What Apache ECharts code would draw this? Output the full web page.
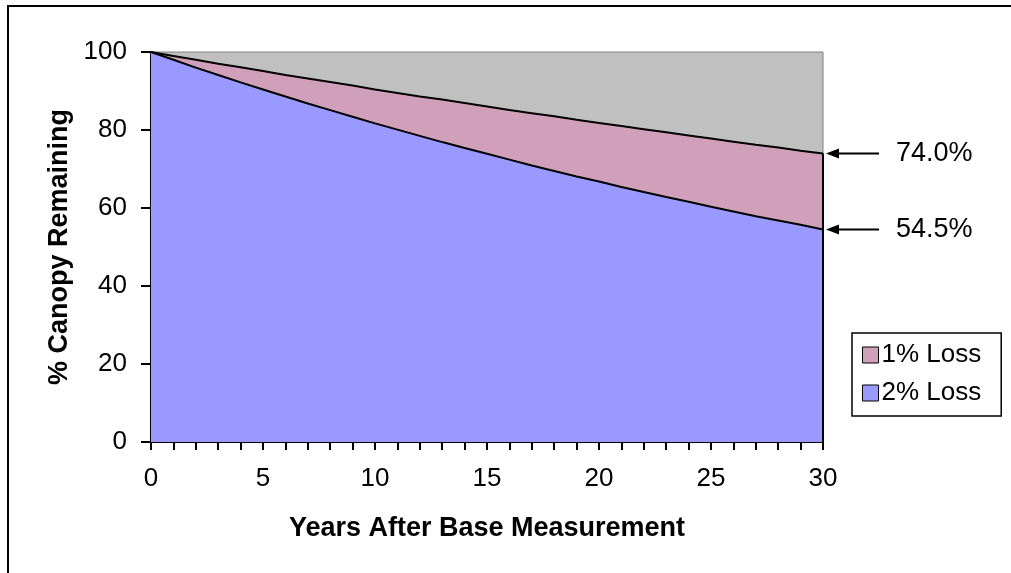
<!DOCTYPE html>
<html>
<head>
<meta charset="utf-8">
<script src="https://cdn.jsdelivr.net/npm/echarts@6/dist/echarts.min.js"></script>
<style>
html,body{margin:0;padding:0;background:#fff;}
#chart{width:1011px;height:573px;}
</style>
</head>
<body>
<div id="chart"></div>
<script>
var years = [0,1,2,3,4,5,6,7,8,9,10,11,12,13,14,15,16,17,18,19,20,21,22,23,24,25,26,27,28,29,30];
var loss1 = [100,99.0,98.0,97.0,96.1,95.1,94.1,93.2,92.3,91.4,90.4,89.5,88.6,87.8,86.9,86.0,85.1,84.3,83.5,82.6,81.8,81.0,80.2,79.4,78.6,77.8,77.0,76.2,75.5,74.7,74.0];
var loss2 = [100,98.0,96.0,94.1,92.2,90.4,88.6,86.8,85.1,83.4,81.7,80.1,78.5,76.9,75.4,73.9,72.4,70.9,69.5,68.1,66.8,65.4,64.1,62.8,61.6,60.3,59.1,57.9,56.8,55.7,54.5];
var seriesNames = ['1% Loss','2% Loss'];
var xTickLabels = ['0','5','10','15','20','25','30'];
var yTickLabels = ['0','20','40','60','80','100'];

var FONT = '"Liberation Sans", Arial, sans-serif';
var chart = echarts.init(document.getElementById('chart'), null, {renderer:'canvas'});

function pairs(vals){ return years.map(function(y,i){ return [y, vals[i]]; }); }

var lastX = years[years.length-1];
var option = {
  animation:false,
  backgroundColor:'#ffffff',
  grid:{left:151, right:188, top:52, bottom:131, show:true, backgroundColor:'#c0c0c0', borderColor:'#808080', borderWidth:1},
  legend:{
    orient:'vertical', left:852, top:333,
    padding:[9,20,10,10], itemGap:12,
    backgroundColor:'#ffffff', borderColor:'#000', borderWidth:1.5,
    itemWidth:16, itemHeight:16, icon:'rect',
    itemStyle:{borderColor:'#000', borderWidth:1},
    textStyle:{fontFamily:FONT, fontSize:26, color:'#000', padding:[0,0,0,-2]},
    data:seriesNames
  },
  xAxis:{
    type:'value', min:0, max:30, interval:1,
    name:'Years After Base Measurement', nameLocation:'middle', nameGap:73,
    nameTextStyle:{fontFamily:FONT, fontSize:27, fontWeight:'bold', color:'#000'},
    axisLine:{show:true, onZero:false, lineStyle:{color:'#000', width:2}},
    axisTick:{show:true, inside:false, length:8, lineStyle:{color:'#000', width:2}},
    axisLabel:{fontFamily:FONT, fontSize:26, color:'#000', margin:24,
      formatter:function(v){ var s=String(v); return xTickLabels.indexOf(s)>=0 ? s : ''; }},
    splitLine:{show:false}
  },
  yAxis:{
    type:'value', min:0, max:100, interval:20,
    name:'% Canopy Remaining', nameLocation:'middle', nameGap:68,
    nameTextStyle:{fontFamily:FONT, fontSize:27, fontWeight:'bold', color:'#000'},
    axisLine:{show:true, lineStyle:{color:'#000', width:2}},
    axisTick:{show:true, inside:false, length:10, lineStyle:{color:'#000', width:2}},
    axisLabel:{fontFamily:FONT, fontSize:26, color:'#000', margin:24,
      formatter:function(v){ var s=String(v); return yTickLabels.indexOf(s)>=0 ? s : ''; }},
    splitLine:{show:false}
  },
  series:[
    {name:seriesNames[0], type:'line', data:pairs(loss1), showSymbol:false, symbol:'none',
     lineStyle:{color:'#000', width:2}, itemStyle:{color:'#d0a0ba'},
     areaStyle:{color:'#d0a0ba', opacity:1}, z:2},
    {name:seriesNames[1], type:'line', data:pairs(loss2), showSymbol:false, symbol:'none',
     lineStyle:{color:'#000', width:2}, itemStyle:{color:'#9999ff'},
     areaStyle:{color:'#9999ff', opacity:1}, z:3,
     markLine:{silent:true, symbol:'none', label:{show:false},
       lineStyle:{color:'#000', width:2, type:'solid'},
       data:[[{coord:[lastX,0]},{coord:[lastX, loss1[loss1.length-1]]}]]}}
  ]
};
chart.setOption(option);

var ends = [loss1[loss1.length-1], loss2[loss2.length-1]];
var gfx = [{type:'rect', shape:{x:8, y:6, width:1200, height:800}, style:{fill:null, stroke:'#000', lineWidth:2}, z:100}];
ends.forEach(function(v){
  var p = chart.convertToPixel({gridIndex:0}, [lastX, v]);
  var x0 = p[0] + 3, y = p[1];
  gfx.push({type:'line', shape:{x1:x0+10, y1:y, x2:x0+53, y2:y}, style:{stroke:'#000', lineWidth:2}, z:100});
  gfx.push({type:'polygon', shape:{points:[[x0,y],[x0+13,y-5],[x0+13,y+5]]}, style:{fill:'#000'}, z:100});
  gfx.push({type:'text', x:p[0]+73, y:y, style:{text:v.toFixed(1)+'%', fontFamily:FONT, fontSize:27, fill:'#000', verticalAlign:'middle'}, z:100});
});
chart.setOption({graphic:gfx});
</script>
</body>
</html>
